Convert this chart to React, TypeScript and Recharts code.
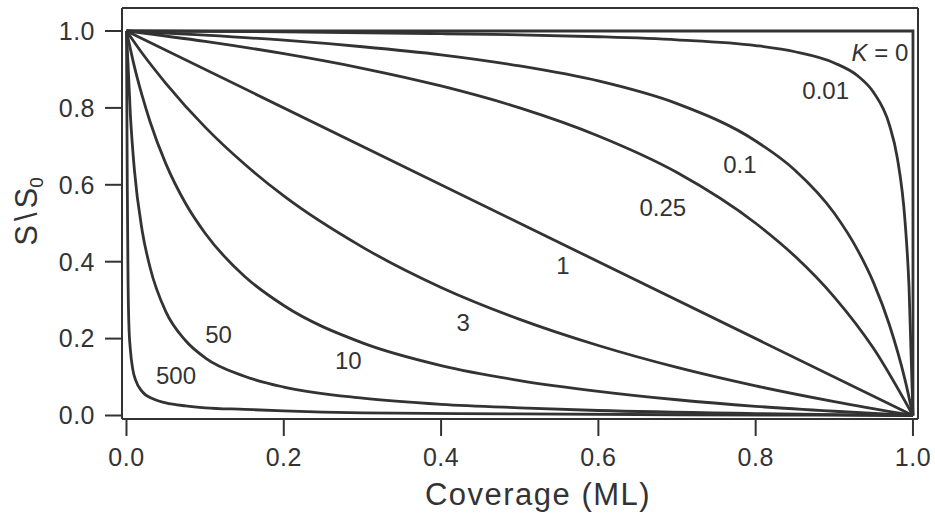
import { LineChart, Line, XAxis, YAxis, ReferenceDot, ReferenceLine } from "recharts";

// S/S0 vs coverage, one array per K value
const kZero = [
  { x: 0, y: 1 },
  { x: 1, y: 1 },
  { x: 1, y: 0 },
];
const kP01 = [
  { x: 0, y: 1 }, { x: 0.2, y: 0.998 }, { x: 0.4, y: 0.993 }, { x: 0.5, y: 0.99 },
  { x: 0.6, y: 0.985 }, { x: 0.7, y: 0.977 }, { x: 0.8, y: 0.962 }, { x: 0.85, y: 0.946 },
  { x: 0.9, y: 0.917 }, { x: 0.93, y: 0.883 }, { x: 0.95, y: 0.84 }, { x: 0.97, y: 0.756 },
  { x: 0.98, y: 0.671 }, { x: 0.99, y: 0.503 }, { x: 0.995, y: 0.334 }, { x: 1, y: 0 },
];
const kP1 = [
  { x: 0, y: 1 }, { x: 0.1, y: 0.989 }, { x: 0.2, y: 0.976 }, { x: 0.3, y: 0.959 },
  { x: 0.4, y: 0.938 }, { x: 0.5, y: 0.909 }, { x: 0.6, y: 0.87 }, { x: 0.7, y: 0.811 },
  { x: 0.8, y: 0.714 }, { x: 0.85, y: 0.638 }, { x: 0.9, y: 0.526 }, { x: 0.93, y: 0.429 },
  { x: 0.95, y: 0.345 }, { x: 0.97, y: 0.236 }, { x: 0.99, y: 0.092 }, { x: 1, y: 0 },
];
const kP25 = [
  { x: 0, y: 1 }, { x: 0.1, y: 0.973 }, { x: 0.2, y: 0.941 }, { x: 0.3, y: 0.903 },
  { x: 0.4, y: 0.857 }, { x: 0.5, y: 0.8 }, { x: 0.6, y: 0.727 }, { x: 0.7, y: 0.632 },
  { x: 0.8, y: 0.5 }, { x: 0.85, y: 0.414 }, { x: 0.9, y: 0.308 }, { x: 0.95, y: 0.174 },
  { x: 1, y: 0 },
];
const kOne = [
  { x: 0, y: 1 },
  { x: 0.5, y: 0.5 },
  { x: 1, y: 0 },
];
const kThree = [
  { x: 0, y: 1 }, { x: 0.02, y: 0.942 }, { x: 0.05, y: 0.864 }, { x: 0.1, y: 0.75 },
  { x: 0.15, y: 0.654 }, { x: 0.2, y: 0.571 }, { x: 0.3, y: 0.438 }, { x: 0.4, y: 0.333 },
  { x: 0.5, y: 0.25 }, { x: 0.6, y: 0.182 }, { x: 0.7, y: 0.125 }, { x: 0.8, y: 0.077 },
  { x: 0.9, y: 0.036 }, { x: 1, y: 0 },
];
const kTen = [
  { x: 0, y: 1 }, { x: 0.01, y: 0.908 }, { x: 0.02, y: 0.831 }, { x: 0.03, y: 0.764 },
  { x: 0.05, y: 0.655 }, { x: 0.075, y: 0.552 }, { x: 0.1, y: 0.474 }, { x: 0.15, y: 0.362 },
  { x: 0.2, y: 0.286 }, { x: 0.3, y: 0.189 }, { x: 0.4, y: 0.13 }, { x: 0.5, y: 0.091 },
  { x: 0.6, y: 0.063 }, { x: 0.7, y: 0.041 }, { x: 0.8, y: 0.024 }, { x: 0.9, y: 0.011 },
  { x: 1, y: 0 },
];
const kFifty = [
  { x: 0, y: 1 }, { x: 0.005, y: 0.78 }, { x: 0.01, y: 0.64 }, { x: 0.02, y: 0.48 },
  { x: 0.03, y: 0.385 }, { x: 0.05, y: 0.27 }, { x: 0.075, y: 0.195 }, { x: 0.1, y: 0.15 },
  { x: 0.15, y: 0.102 }, { x: 0.2, y: 0.074 }, { x: 0.3, y: 0.045 }, { x: 0.4, y: 0.029 },
  { x: 0.5, y: 0.02 }, { x: 0.6, y: 0.013 }, { x: 0.8, y: 0.005 }, { x: 1, y: 0 },
];
const kFiveHundred = [
  { x: 0, y: 1 }, { x: 0.001, y: 0.6 }, { x: 0.002, y: 0.35 }, { x: 0.003, y: 0.24 },
  { x: 0.005, y: 0.17 }, { x: 0.008, y: 0.12 }, { x: 0.012, y: 0.09 }, { x: 0.02, y: 0.062 },
  { x: 0.035, y: 0.042 }, { x: 0.05, y: 0.033 }, { x: 0.075, y: 0.025 }, { x: 0.1, y: 0.02 },
  { x: 0.15, y: 0.016 }, { x: 0.2, y: 0.012 }, { x: 0.3, y: 0.007 }, { x: 0.5, y: 0.004 },
  { x: 0.7, y: 0.002 }, { x: 1, y: 0 },
];

const curves = [kZero, kP01, kP1, kP25, kOne, kThree, kTen, kFifty, kFiveHundred];

const curveLabels = [
  { text: "K = 0", x: 0.958, y: 0.943 },
  { text: "0.01", x: 0.889, y: 0.844 },
  { text: "0.1", x: 0.78, y: 0.654 },
  { text: "0.25", x: 0.682, y: 0.54 },
  { text: "1", x: 0.555, y: 0.389 },
  { text: "3", x: 0.428, y: 0.243 },
  { text: "10", x: 0.282, y: 0.144 },
  { text: "50", x: 0.117, y: 0.212 },
  { text: "500", x: 0.063, y: 0.103 },
];

const xTicks = [0, 0.2, 0.4, 0.6, 0.8, 1];
const yTicks = [0, 0.2, 0.4, 0.6, 0.8, 1];
const xDomain = [-0.0057, 1.0064];
const yDomain = [-0.0091, 1.0598];

const ink = "#333";
const font = "'Liberation Sans', Arial, sans-serif";
const tickStyle = { fontSize: 25, fill: ink, fontFamily: font, letterSpacing: 0.5 };

const CurveLabel = (props: any) => {
  const vb = props.viewBox || {};
  const cx = vb.x + (vb.width || 0) / 2;
  const cy = vb.y + (vb.height || 0) / 2;
  const text: string = props.text;
  return (
    <text x={cx} y={cy} dy="0.355em" textAnchor="middle" fontSize={24} fill={ink} fontFamily={font}>
      {text.startsWith("K") ? (
        <>
          <tspan fontStyle="italic">K</tspan>
          <tspan>{text.slice(1)}</tspan>
        </>
      ) : (
        text
      )}
    </text>
  );
};

const YTitle = (props: any) => {
  const vb = props.viewBox || {};
  const x = vb.x + 37;
  const y = vb.y + vb.height / 2 - 2;
  return (
    <text
      x={x}
      y={y}
      textAnchor="middle"
      transform={`rotate(-90, ${x}, ${y})`}
      fontSize={31}
      fill={ink}
      fontFamily={font}
    >
      S<tspan dx={4}>\</tspan>
      <tspan dx={4}>S</tspan>
      <tspan fontSize={19} dy={6}>0</tspan>
    </text>
  );
};

const XTitle = (props: any) => {
  const vb = props.viewBox || {};
  return (
    <text
      x={vb.x + vb.width / 2 + 18}
      y={505}
      textAnchor="middle"
      fontSize={31}
      letterSpacing={1.5}
      fill={ink}
      fontFamily={font}
    >
      Coverage (ML)
    </text>
  );
};

export default function App() {
  return (
    <div style={{ position: "absolute", left: 0, top: 0 }}>
      <LineChart width={935} height={515} margin={{ top: 8, right: 17, left: 0, bottom: 0 }}>
        <XAxis
          type="number"
          dataKey="x"
          domain={xDomain}
          allowDataOverflow
          ticks={xTicks}
          tickFormatter={(v: number) => v.toFixed(1)}
          height={96}
          tickSize={17}
          tickMargin={12}
          tick={tickStyle}
          axisLine={{ stroke: ink, strokeWidth: 2 }}
          tickLine={{ stroke: ink, strokeWidth: 2 }}
          label={{ content: XTitle }}
        />
        <YAxis
          type="number"
          domain={yDomain}
          allowDataOverflow
          ticks={yTicks}
          tickFormatter={(v: number) => v.toFixed(1)}
          width={122}
          tickSize={17}
          tickMargin={10}
          tick={tickStyle}
          axisLine={{ stroke: ink, strokeWidth: 2 }}
          tickLine={{ stroke: ink, strokeWidth: 2 }}
          label={{ content: YTitle }}
        />
        {/* top and right edges of the frame */}
        <ReferenceLine y={yDomain[1]} stroke={ink} strokeWidth={2} ifOverflow="visible" />
        <ReferenceLine x={xDomain[1]} stroke={ink} strokeWidth={2} ifOverflow="visible" />
        {curves.map((data, i) => (
          <Line
            key={i}
            data={data}
            dataKey="y"
            type={i === 0 || i === 4 ? "linear" : "monotone"}
            stroke={ink}
            strokeWidth={2.8}
            dot={false}
            activeDot={false}
            isAnimationActive={false}
          />
        ))}
        {curveLabels.map((l) => (
          <ReferenceDot
            key={l.text}
            x={l.x}
            y={l.y}
            r={1}
            fill="none"
            stroke="none"
            label={{ content: (p: any) => <CurveLabel {...p} text={l.text} /> }}
          />
        ))}
      </LineChart>
    </div>
  );
}
